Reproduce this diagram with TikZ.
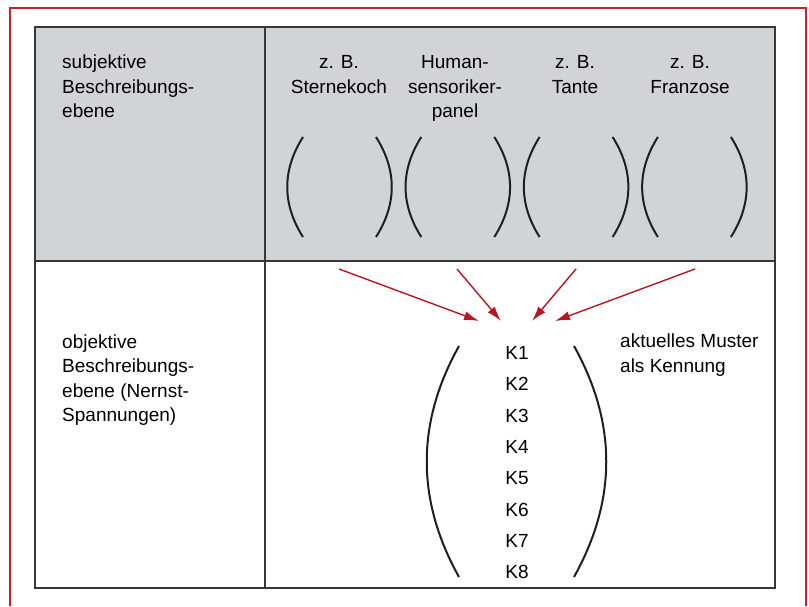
\documentclass[tikz,border=0pt]{standalone}
\usepackage{fontspec}
\setmainfont{Liberation Sans}
\usetikzlibrary{arrows.meta}
\definecolor{rahmenrot}{RGB}{200,32,45}
\definecolor{pfeilrot}{RGB}{185,22,34}
\definecolor{feldgrau}{RGB}{210,211,213}
\definecolor{linie}{RGB}{55,55,55}

\begin{document}
\begin{tikzpicture}[x=1pt,y=-1pt,
	txt/.style={inner sep=0pt,align=left,anchor=base west,font=\fontsize{19}{24.5}\selectfont},
	hdr/.style={inner sep=0pt,align=center,anchor=base,font=\fontsize{19}{24.5}\selectfont},
	kenn/.style={inner sep=0pt,anchor=base,font=\fontsize{19}{24.5}\selectfont},
	bow/.style={line width=2pt,draw=black!88},
	zu/.style={-{Latex[length=15pt,width=9pt]},draw=pfeilrot,fill=pfeilrot,line width=1.4pt},
	gitter/.style={line width=1.6pt,draw=linie}]
	\useasboundingbox (0,0) rectangle (809,606);
	\draw[rahmenrot,line width=2pt] (10,606) -- (10,8) -- (806,8) -- (806,606);
	\fill[feldgrau] (35,27) rectangle (775,261);
	\draw[gitter] (35,27) rectangle (775,588);
	\draw[gitter] (265,27) -- (265,588);
	\draw[gitter] (35,261) -- (775,261);

	\node[txt] (subj) at (62,117.5) {subjektive\\Beschreibungs-\\ebene};
	\node[hdr] (koch) at (339,93) {z. B.\\Sternekoch};
	\node[hdr] (panel) at (455,117.5) {Human-\\sensoriker-\\panel};
	\node[hdr] (tante) at (575,93) {z. B.\\Tante};
	\node[hdr] (franzose) at (690,93) {z. B.\\Franzose};

	\foreach \i in {0,...,3} {
		\draw[bow] (303+118.3*\i,137) .. controls (282+118.3*\i,170) and (282+118.3*\i,204) .. (303+118.3*\i,237);
		\draw[bow] (376+118.3*\i,137) .. controls (397+118.3*\i,170) and (397+118.3*\i,204) .. (376+118.3*\i,237);
	}

	\node[txt] (obj) at (62,421.5) {objektive\\Beschreibungs-\\ebene (Nernst-\\Spannungen)};
	\node[txt] (muster) at (620,372) {aktuelles Muster\\als Kennung};

	\foreach \i in {1,...,8}
		\node[kenn] (k\i) at (517,359.5+31.3*\i-31.3) {K\i};

	\draw[bow] (459,346) .. controls (416,423) and (416,500) .. (459,577);
	\draw[bow] (574,346) .. controls (617,423) and (617,500) .. (574,577);

	\foreach \sx/\ex [count=\i] in {339/479,457/501,576/532,695/555} {
		\coordinate (s\i) at (\sx,269);
		\coordinate (e\i) at (\ex,321);
		\draw[zu] (s\i) -- (e\i);
	}
\end{tikzpicture}
\end{document}
